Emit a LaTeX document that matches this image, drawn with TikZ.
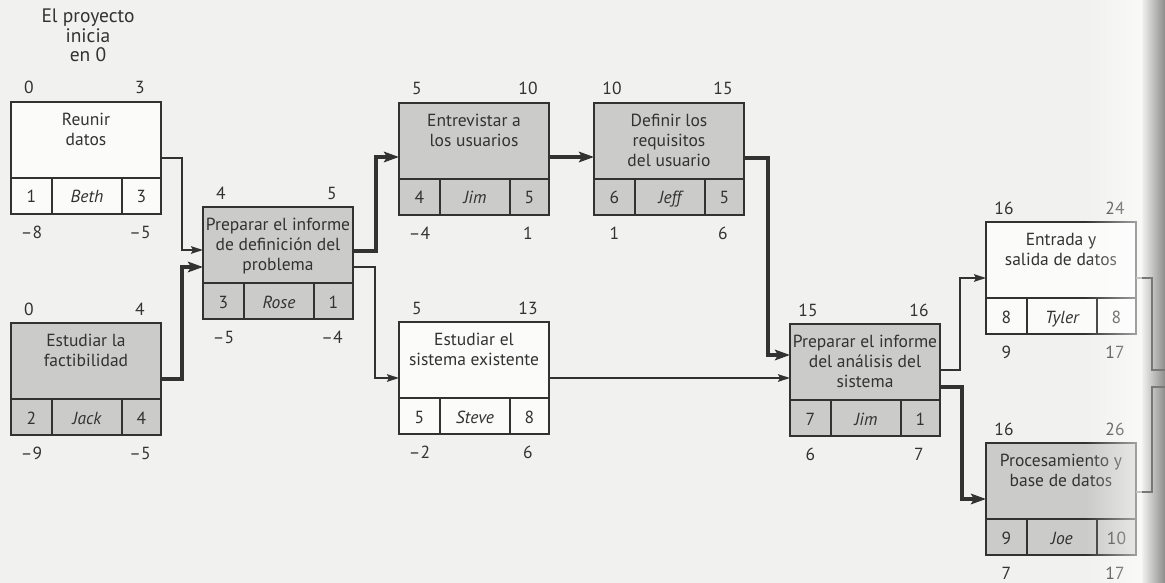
\documentclass[tikz,border=0pt]{standalone}
\usepackage{fontspec}
\setmainfont{PT Sans}
\usetikzlibrary{arrows.meta,calc,fadings}
\definecolor{paper}{RGB}{241,241,239}
\definecolor{ink}{RGB}{50,50,50}
\definecolor{boxgray}{RGB}{203,203,201}
\definecolor{gutline}{RGB}{120,120,120}
\tikzfading[name=gutfade, left color=transparent!100, right color=transparent!40]
\tikzset{
  boxframe/.style={draw=ink, line width=1.8pt, rectangle, minimum width=150pt,
    minimum height=112pt, inner sep=0pt, outer sep=0pt},
  whitebox/.style={fill=white!70!paper},
  graybox/.style={fill=boxgray},
  boxline/.style={draw=ink, line width=1.6pt},
  txt/.style={text=ink, inner sep=0pt, font=\fontsize{17.5}{20}\selectfont},
  titletext/.style={txt, anchor=north, align=center},
  headtext/.style={titletext, font=\fontsize{19.5}{19.5}\selectfont},
  celltext/.style={txt, anchor=base},
  numtext/.style={txt, anchor=base},
  thinarr/.style={draw=ink, line width=1.7pt, -{Stealth[length=12pt,width=7.5pt,inset=2pt]}},
  thickarr/.style={draw=ink, line width=3.8pt, -{Stealth[length=15pt,width=10.5pt,inset=3pt]}},
  gutstroke/.style={draw=gutline, line width=1.4pt},
}
\newcommand\actbox[7]{%
  \node[boxframe, #3, anchor=north west] (#1) at (#2) {};
  \draw[boxline] ($(#1.north west)+(0,76)$) -- ($(#1.north east)+(0,76)$);
  \draw[boxline] ($(#1.north west)+(41,76)$) -- ($(#1.south west)+(41,0)$);
  \draw[boxline] ($(#1.north west)+(111,76)$) -- ($(#1.south west)+(111,0)$);
  \node[titletext] (#1-t) at ($(#1.north)+(0,11)$) {#4};
  \node[celltext] (#1-n) at ($(#1.north west)+(20.5,101)$) {#5};
  \node[celltext, font=\fontsize{17.5}{20}\selectfont\itshape] (#1-w) at ($(#1.north west)+(76,101)$) {#6};
  \node[celltext] (#1-d) at ($(#1.north west)+(130.5,101)$) {#7};
}
\newcommand\actlabels[5]{%
  \node[numtext] (#1-es) at ($(#1.north west)+(18,-8)$) {#2};
  \node[numtext] (#1-ef) at ($(#1.north west)+(129,-8)$) {#3};
  \node[numtext] (#1-ls) at ($(#1.south west)+(20.5,24)$) {#4};
  \node[numtext] (#1-lf) at ($(#1.south west)+(129,24)$) {#5};
}
\begin{document}
\begin{tikzpicture}[x=1pt, y=-1pt]
\useasboundingbox (0,0) rectangle (1165,583);
\fill[paper] (0,0) rectangle (1165,583);
\shade[left color=paper, right color=black!45] (1142,0) rectangle (1165,583);

\node[headtext] (start) at (88,9) {El proyecto\\inicia\\en 0};

\actbox{b1}{11,102}{whitebox}{Reunir\\datos}{1}{Beth}{3}
\actlabels{b1}{0}{3}{–8}{–5}
\actbox{b2}{11,323}{graybox}{Estudiar la\\factibilidad}{2}{Jack}{4}
\actlabels{b2}{0}{4}{–9}{–5}
\actbox{b3}{203,207}{graybox}{Preparar el informe\\de definición del\\problema}{3}{Rose}{1}
\actlabels{b3}{4}{5}{–5}{–4}
\actbox{b4}{399,103}{graybox}{Entrevistar a\\los usuarios}{4}{Jim}{5}
\actlabels{b4}{5}{10}{–4}{1}
\actbox{b5}{399,322}{whitebox}{Estudiar el\\sistema existente}{5}{Steve}{8}
\actlabels{b5}{5}{13}{–2}{6}
\actbox{b6}{594,103}{graybox}{Definir los\\requisitos\\del usuario}{6}{Jeff}{5}
\actlabels{b6}{10}{15}{1}{6}
\actbox{b7}{790,324}{graybox}{Preparar el informe\\del análisis del\\sistema}{7}{Jim}{1}
\actlabels{b7}{15}{16}{6}{7}
\actbox{b8}{986,222}{whitebox}{Entrada y\\salida de datos}{8}{Tyler}{8}
\actlabels{b8}{16}{24}{9}{17}
\actbox{b9}{986,443}{graybox}{Procesamiento y\\base de datos}{9}{Joe}{10}
\actlabels{b9}{16}{26}{7}{17}

\draw[thinarr] (b1.east) -- ++(21,0) |- ($(b3.north west)+(0,43)$);
\draw[thickarr] (b2.east) -- ++(21,0) |- ($(b3.north west)+(0,60)$);
\draw[thickarr] ($(b3.north east)+(0,44)$) -- ++(23,0) |- ($(b4.north west)+(0,54)$);
\draw[thinarr] ($(b3.north east)+(0,60)$) -- ++(22,0) |- ($(b5.north west)+(0,56)$);
\draw[thickarr] ($(b4.north east)+(0,54)$) -- ($(b6.north west)+(0,54)$);
\draw[thickarr] ($(b6.north east)+(0,55)$) -- ++(24,0) |- ($(b7.north west)+(0,31)$);
\draw[thinarr] ($(b5.north east)+(0,56)$) -- ($(b7.north west)+(0,54)$);
\draw[thinarr] ($(b7.north east)+(0,46)$) -- ++(20,0) |- (b8.west);
\draw[thickarr] ($(b7.north east)+(0,63)$) -- ++(22,0) |- (b9.west);

\coordinate (g8) at (1165,370);
\coordinate (g9) at (1165,387);
\draw[gutstroke] (b8.east) -- ++(16,0) |- (g8);
\draw[gutstroke, line width=2.4pt] ($(b9.north east)+(0,49)$) -- ++(16,0) |- (g9);

\fill[white, path fading=gutfade] (1085,0) rectangle (1142,583);
\end{tikzpicture}
\end{document}
